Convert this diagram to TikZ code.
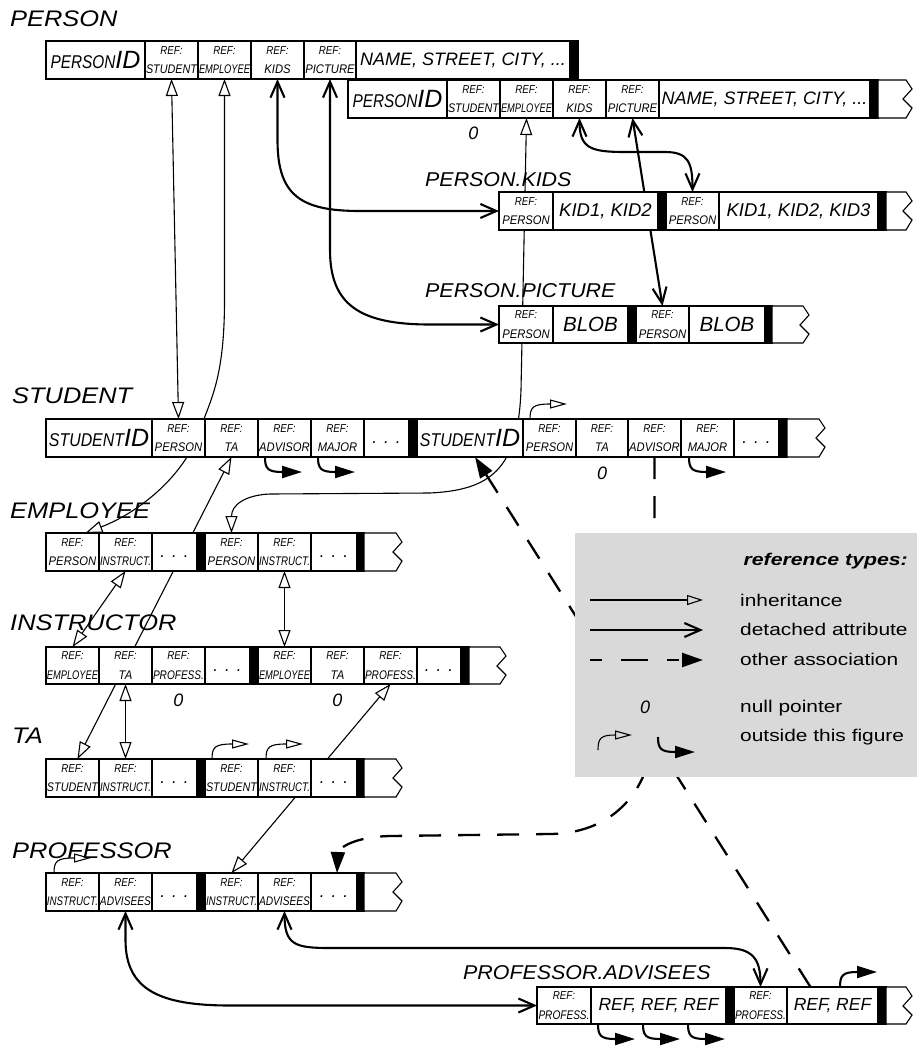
\documentclass[tikz,border=0pt]{standalone}
\usepackage{fontspec}
\usepackage{graphicx}
\setmainfont{Liberation Sans}
\usetikzlibrary{arrows.meta,calc}
\pgfdeclarelayer{bg}
\pgfdeclarelayer{mid}
\pgfsetlayers{bg,mid,main}
\definecolor{lgray}{RGB}{217,217,217}
\newsavebox\fitbx
\newcommand\fitw[2]{\sbox\fitbx{#2}\ifdim\wd\fitbx>#1\relax\resizebox{#1}{\height}{\usebox\fitbx}\else\usebox\fitbx\fi}
\newcommand\hs[2]{\scalebox{#1}[1]{#2}}
\newcommand\refw[1]{\vbox{\baselineskip=19.5pt\lineskiplimit=-100pt\lineskip=0pt\halign{\hfil##\hfil\cr{\fontsize{11.5}{11.5}\selectfont\hs{0.85}{REF:}}\cr\fitw{51pt}{\fontsize{12.5}{12.5}\selectfont\hs{0.9}{#1}}\cr}}}
\newcommand\idt[2]{{\fontsize{18.5}{18.5}\selectfont\hs{#1}{#2}}{\fontsize{25}{25}\selectfont ID}}
\newcommand\bigt[2][17.5]{{\fontsize{#1}{#1}\selectfont #2}}
\newcommand\dotst{{\fontsize{17}{17}\selectfont\vphantom{I}.\hspace{7pt}.\hspace{7pt}.}}
\newcommand\cellnode[6]{\node[cell, minimum width={#3-#2}, minimum height={#5-#4}] (#1) at ({(#2+#3)/2},{(#4+#5)/2}) {#6};}
\newcommand\sepbar[4]{\filldraw[line width=1.1pt] (#1,#3) rectangle (#2,#4);}
\newcommand\zigend[4]{\filldraw[fill=white, line width=1.1pt] (#1,#3) -- (#2,#3) -- (#2+6,#3+9) -- (#2-3,#3+19) -- (#2+6,#3+28) -- (#2,#4) -- (#1,#4) -- cycle;}
\newcommand\outup[2]{\draw[inhout] ($(#1.north west)+(#2,0)$) .. controls ($(#1.north west)+(#2,-12)$) and ($(#1.north west)+(#2+3,-15)$) .. ($(#1.north west)+(#2+37,-15)$);}
\newcommand\outdown[2]{\draw[assocout] ($(#1.south west)+(#2,0)$) .. controls ($(#1.south west)+(#2,12)$) and ($(#1.south west)+(#2+3,15)$) .. ($(#1.south west)+(#2+37,15)$);}
\newcommand\outupf[2]{\draw[assocout] ($(#1.north west)+(#2,0)$) .. controls ($(#1.north west)+(#2,-12)$) and ($(#1.north west)+(#2+3,-15)$) .. ($(#1.north west)+(#2+37,-15)$);}
\begin{document}
\begin{tikzpicture}[x=1pt,y=-1pt,
  cell/.style={draw, fill=white, line width=1.2pt, inner sep=0pt, outer sep=0pt, font=\itshape},
  title/.style={anchor=base west, inner sep=0pt, font=\fontsize{22.5}{26}\selectfont\itshape},
  sublabel/.style={anchor=base west, inner sep=0pt, font=\fontsize{20}{24}\selectfont\itshape},
  zero/.style={inner sep=0pt, font=\fontsize{18}{20}\selectfont\itshape},
  ltext/.style={anchor=base west, inner sep=0pt, font=\fontsize{17}{20}\selectfont},
  legendbox/.style={fill=lgray, anchor=north west, minimum width=342pt, minimum height=244pt, inner sep=0pt, outer sep=0pt},
  inh/.style={line width=1.1pt, {Triangle[open,length=17pt,width=12pt]}-{Triangle[open,length=17pt,width=12pt]}},
  inhone/.style={line width=1.1pt, -{Triangle[open,length=16pt,width=10pt]}},
  inhout/.style={line width=1.1pt, -{Triangle[open,length=17pt,width=9pt]}},
  det/.style={line width=2.1pt, {Straight Barb[length=16pt,width=14pt]}-{Straight Barb[length=16pt,width=14pt]}},
  detone/.style={line width=2.1pt, -{Straight Barb[length=16pt,width=14pt]}},
  assoc/.style={line width=2.3pt, dash pattern=on 22pt off 17pt, -{Triangle[length=21pt,width=14pt]}},
  assocout/.style={line width=2.1pt, -{Triangle[length=20pt,width=12pt]}}]
\useasboundingbox (0,0) rectangle (917,1047);

% titles
\node[title] (tperson) at (10,26) {\hs{1.13}{PERSON}};
\node[sublabel] (tkids) at (425,186) {\hs{1.07}{PERSON.KIDS}};
\node[sublabel] (tpic) at (425,297.5) {\hs{1.07}{PERSON.PICTURE}};
\node[title] (tstudent) at (12,403) {\hs{1.13}{STUDENT}};
\node[title] (temployee) at (10,518) {\hs{1.13}{EMPLOYEE}};
\node[title] (tinstr) at (10,630) {\hs{1.13}{INSTRUCTOR}};
\node[title] (tta) at (12,743) {\hs{1.13}{TA}};
\node[title] (tprof) at (12,858) {\hs{1.13}{PROFESSOR}};
\node[sublabel] (tadv) at (463,979) {\hs{1.07}{PROFESSOR.ADVISEES}};

% PERSON row 1
\cellnode{p1id}{46}{145}{41}{79}{\idt{0.83}{PERSON}}
\cellnode{p1stu}{145}{198}{41}{79}{\refw{STUDENT}}
\cellnode{p1emp}{198}{251}{41}{79}{\refw{EMPLOYEE}}
\cellnode{p1kid}{251}{304}{41}{79}{\refw{KIDS}}
\cellnode{p1pic}{304}{356}{41}{79}{\refw{PICTURE}}
\cellnode{p1name}{356}{570}{41}{79}{\bigt[18]{NAME, STREET, CITY, ...}}
\sepbar{570}{578}{41}{79}

% PERSON row 2
\cellnode{p2id}{348}{447}{80}{118}{\idt{0.83}{PERSON}}
\cellnode{p2stu}{447}{500}{80}{118}{\refw{STUDENT}}
\cellnode{p2emp}{500}{553}{80}{118}{\refw{EMPLOYEE}}
\cellnode{p2kid}{553}{606}{80}{118}{\refw{KIDS}}
\cellnode{p2pic}{606}{659}{80}{118}{\refw{PICTURE}}
\cellnode{p2name}{659}{870}{80}{118}{\bigt[18]{NAME, STREET, CITY, ...}}
\sepbar{870}{878}{80}{118}
\zigend{878}{906}{80}{118}

% PERSON.KIDS
\cellnode{k1per}{499}{553}{192}{230}{\refw{PERSON}}
\cellnode{k1kids}{553}{658}{192}{230}{\bigt[18.5]{KID1, KID2}}
\sepbar{658}{666}{192}{230}
\cellnode{k2per}{666}{719}{192}{230}{\refw{PERSON}}
\cellnode{k2kids}{719}{878}{192}{230}{\bigt[18.5]{KID1, KID2, KID3}}
\sepbar{878}{886}{192}{230}
\zigend{886}{906}{192}{230}

% PERSON.PICTURE
\cellnode{c1per}{499}{553}{306}{343}{\refw{PERSON}}
\cellnode{c1blob}{553}{628}{306}{343}{\bigt[20.5]{BLOB}}
\sepbar{628}{636}{306}{343}
\cellnode{c2per}{636}{689}{306}{343}{\refw{PERSON}}
\cellnode{c2blob}{689}{765}{306}{343}{\bigt[20.5]{BLOB}}
\sepbar{765}{772}{306}{343}
\zigend{772}{803}{306}{343}

% STUDENT
\cellnode{s1id}{46}{152}{419}{457}{\idt{0.86}{STUDENT}}
\cellnode{s1per}{152}{205}{419}{457}{\refw{PERSON}}
\cellnode{s1ta}{205}{258}{419}{457}{\refw{TA}}
\cellnode{s1adv}{258}{311}{419}{457}{\refw{ADVISOR}}
\cellnode{s1maj}{311}{364}{419}{457}{\refw{MAJOR}}
\cellnode{s1dots}{364}{409}{419}{457}{\dotst}
\sepbar{409}{417}{419}{457}
\cellnode{s2id}{417}{523}{419}{457}{\idt{0.86}{STUDENT}}
\cellnode{s2per}{523}{576}{419}{457}{\refw{PERSON}}
\cellnode{s2ta}{576}{628}{419}{457}{\refw{TA}}
\cellnode{s2adv}{628}{681}{419}{457}{\refw{ADVISOR}}
\cellnode{s2maj}{681}{734}{419}{457}{\refw{MAJOR}}
\cellnode{s2dots}{734}{779}{419}{457}{\dotst}
\sepbar{779}{787}{419}{457}
\zigend{787}{819}{419}{457}

% EMPLOYEE
\cellnode{e1per}{46}{99}{533}{571}{\refw{PERSON}}
\cellnode{e1ins}{99}{152}{533}{571}{\refw{INSTRUCT.}}
\cellnode{e1dots}{152}{197}{533}{571}{\dotst}
\sepbar{197}{205}{533}{571}
\cellnode{e2per}{205}{258}{533}{571}{\refw{PERSON}}
\cellnode{e2ins}{258}{311}{533}{571}{\refw{INSTRUCT.}}
\cellnode{e2dots}{311}{357}{533}{571}{\dotst}
\sepbar{357}{364}{533}{571}
\zigend{364}{396}{533}{571}

% INSTRUCTOR
\cellnode{i1emp}{46}{99}{647}{684}{\refw{EMPLOYEE}}
\cellnode{i1ta}{99}{152}{647}{684}{\refw{TA}}
\cellnode{i1pro}{152}{205}{647}{684}{\refw{PROFESS.}}
\cellnode{i1dots}{205}{250}{647}{684}{\dotst}
\sepbar{250}{258}{647}{684}
\cellnode{i2emp}{258}{311}{647}{684}{\refw{EMPLOYEE}}
\cellnode{i2ta}{311}{364}{647}{684}{\refw{TA}}
\cellnode{i2pro}{364}{417}{647}{684}{\refw{PROFESS.}}
\cellnode{i2dots}{417}{461}{647}{684}{\dotst}
\sepbar{461}{469}{647}{684}
\zigend{469}{500}{647}{684}

% TA
\cellnode{t1stu}{46}{99}{759}{797}{\refw{STUDENT}}
\cellnode{t1ins}{99}{152}{759}{797}{\refw{INSTRUCT.}}
\cellnode{t1dots}{152}{197}{759}{797}{\dotst}
\sepbar{197}{205}{759}{797}
\cellnode{t2stu}{205}{258}{759}{797}{\refw{STUDENT}}
\cellnode{t2ins}{258}{311}{759}{797}{\refw{INSTRUCT.}}
\cellnode{t2dots}{311}{357}{759}{797}{\dotst}
\sepbar{357}{364}{759}{797}
\zigend{364}{396}{759}{797}

% PROFESSOR
\cellnode{r1ins}{46}{99}{873}{911}{\refw{INSTRUCT.}}
\cellnode{r1adv}{99}{152}{873}{911}{\refw{ADVISEES}}
\cellnode{r1dots}{152}{197}{873}{911}{\dotst}
\sepbar{197}{205}{873}{911}
\cellnode{r2ins}{205}{258}{873}{911}{\refw{INSTRUCT.}}
\cellnode{r2adv}{258}{311}{873}{911}{\refw{ADVISEES}}
\cellnode{r2dots}{311}{357}{873}{911}{\dotst}
\sepbar{357}{364}{873}{911}
\zigend{364}{396}{873}{911}

% PROFESSOR.ADVISEES
\cellnode{a1pro}{537}{591}{987}{1024}{\refw{PROFESS.}}
\cellnode{a1refs}{591}{726}{987}{1024}{\bigt[17.5]{REF, REF, REF}}
\sepbar{726}{734}{987}{1024}
\cellnode{a2pro}{734}{787}{987}{1024}{\refw{PROFESS.}}
\cellnode{a2refs}{787}{878}{987}{1024}{\bigt[17.5]{REF, REF}}
\sepbar{878}{886}{987}{1024}
\zigend{886}{906}{987}{1024}

% null pointers
\node[zero] (z1) at ($(p2stu.south)+(0,15)$) {0};
\node[zero] (z2) at ($(s2ta.south)+(0,16)$) {0};
\node[zero] (z3) at ($(i1pro.south)+(0,16)$) {0};
\node[zero] (z4) at ($(i2ta.south)+(0,16)$) {0};

% outside this figure stubs
\outup{s2per}{7}
\outdown{s1adv}{7}
\outdown{s1maj}{7}
\outdown{s2maj}{8}
\outup{t2stu}{7}
\outup{t2ins}{8}
\outup{r1ins}{8}
\outdown{a1refs}{7}
\outdown{a1refs}{52}
\outdown{a1refs}{97}
\outupf{a2refs}{53}

% legend
\begin{pgfonlayer}{mid}
\node[legendbox] (legend) at (575,533) {};
\end{pgfonlayer}
\node[anchor=base east, inner sep=0pt, font=\fontsize{17}{20}\selectfont\bfseries\itshape] (lhead) at (908,565) {\hs{1.25}{reference types:}};
\coordinate (la1) at (590,600); \coordinate (lb1) at (703,600);
\coordinate (la2) at (590,630); \coordinate (lb2) at (703,630);
\coordinate (la3) at (590,660); \coordinate (lb3) at (703,660);
\coordinate (la4) at (598,750); \coordinate (lb4) at (632,735);
\coordinate (la5) at (658,737); \coordinate (lb5) at (695,752);
\draw[inhone] (la1) -- (lb1);
\draw[detone] (la2) -- (lb2);
\draw[line width=2.3pt, dash pattern=on 12pt off 19pt on 27pt off 19pt, -{Triangle[length=21pt,width=14pt]}] (la3) -- (lb3);
\draw[inhout] (la4) .. controls (598,738) and (601,735) .. (lb4);
\draw[assocout] (la5) .. controls (658,749) and (661,752) .. (lb5);
\node[ltext] (l1) at (740,606.5) {\hs{1.23}{inheritance}};
\node[ltext] (l2) at (740,635.5) {\hs{1.23}{detached attribute}};
\node[ltext] (l3) at (740,665) {\hs{1.23}{other association}};
\node[zero] (l0) at (645,707) {0};
\node[ltext] (l4) at (740,712) {\hs{1.23}{null pointer}};
\node[ltext] (l5) at (740,741.5) {\hs{1.23}{outside this figure}};

% connectors
\begin{pgfonlayer}{bg}
\draw[inh] (p1stu.south) -- (s1per.north);
\draw[inh] (p1emp.south) -- (224.5,300) .. controls (224.5,380) and (210,400) .. (200,430) .. controls (185,475) and (140,512) .. ([xshift=13pt]e1per.north);
\draw[det] (p1kid.south) -- (277.5,140) .. controls (277.5,195) and (300,211) .. (360,211) -- (k1per.west);
\draw[det] (p1pic.south) -- (330,250) .. controls (330,305) and (360,324.5) .. (430,324.5) -- (c1per.west);
\draw[det] (p2kid.south) .. controls (579.5,148) and (590,152) .. (625,152) -- (665,152) .. controls (688,152) and (692.5,162) .. (k2per.north);
\draw[det] (p2pic.south) -- (c2per.north);
\draw[inh] (p2emp.south) -- (521,390) .. controls (518,470) and (490,490) .. (430,493) -- (270,494) .. controls (245,495) and (231.5,505) .. (e2per.north);
\draw[inh] (s1ta.south) -- ([xshift=5pt]t1stu.north);
\draw[inh] (e1ins.south) -- (i1emp.north);
\draw[inh] (e2ins.south) -- (i2emp.north);
\draw[inh] (i1ta.south) -- (t1ins.north);
\draw[inh] (i2pro.south) -- (r2ins.north);
\draw[det] (r1adv.south) -- (125.5,940) .. controls (125.5,990) and (160,1005.5) .. (230,1005.5) -- (a1pro.west);
\draw[det] (r2adv.south) .. controls (284.5,945) and (295,948) .. (330,948) -- (725,948) .. controls (752,948) and (760.5,958) .. (a2pro.north);
\draw[assoc] (s2adv.south) -- (654.5,720) .. controls (654.5,780) and (622,833) .. (550,834) -- (390,836) .. controls (350,837) and (338,850) .. ([xshift=3pt]r2dots.north);
\draw[assoc] ([xshift=-22pt]a2refs.north) -- ([xshift=5pt]s2id.south);
\end{pgfonlayer}
\end{tikzpicture}
\end{document}
